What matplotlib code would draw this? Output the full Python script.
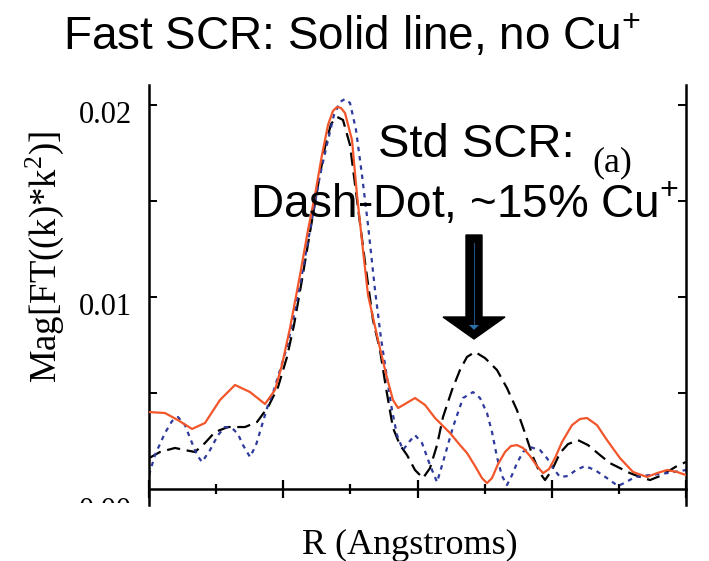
import matplotlib
matplotlib.use("Agg")
import matplotlib.pyplot as plt
from matplotlib.patches import Polygon, Rectangle
from matplotlib.transforms import ScaledTranslation
from matplotlib.lines import Line2D

plt.rcParams['mathtext.fontset'] = 'custom'
plt.rcParams['mathtext.rm'] = 'Liberation Sans'
plt.rcParams['mathtext.it'] = 'Liberation Sans'

# ---------------- data ----------------
r_fast = [0.000, 0.238, 0.432, 0.641, 0.834, 1.058, 1.281, 1.505, 1.728, 1.877,
          1.981, 2.101, 2.250, 2.369, 2.473, 2.577, 2.667, 2.741, 2.801, 2.861,
          2.920, 3.024, 3.099, 3.188, 3.263, 3.412, 3.546, 3.635, 3.710, 3.814,
          3.963, 4.112, 4.261, 4.484, 4.633, 4.737, 4.857, 4.961, 5.035, 5.110,
          5.199, 5.304, 5.393, 5.482, 5.572, 5.676, 5.780, 5.870, 5.959, 6.048,
          6.153, 6.302, 6.421, 6.525, 6.674, 6.823, 7.017, 7.210, 7.419, 7.568,
          7.717, 7.866, 8.000]
mag_fast = [0.00401, 0.00396, 0.00359, 0.00313, 0.00344, 0.00464, 0.00542, 0.00505, 0.00443, 0.00516,
            0.00646, 0.00839, 0.01115, 0.01349, 0.01531, 0.01740, 0.01896, 0.01969, 0.01990, 0.01984,
            0.01958, 0.01818, 0.01531, 0.01245, 0.01010, 0.00776, 0.00578, 0.00464, 0.00422, 0.00443,
            0.00474, 0.00438, 0.00370, 0.00292, 0.00229, 0.00188, 0.00120, 0.00057, 0.00031, 0.00057,
            0.00130, 0.00193, 0.00224, 0.00229, 0.00214, 0.00172, 0.00120, 0.00083, 0.00104, 0.00161,
            0.00245, 0.00333, 0.00365, 0.00370, 0.00333, 0.00255, 0.00161, 0.00089, 0.00063, 0.00083,
            0.00099, 0.00089, 0.00073]

r_std = [0.000, 0.164, 0.387, 0.536, 0.685, 0.834, 0.983, 1.177, 1.430, 1.609,
         1.773, 1.922, 2.056, 2.160, 2.279, 2.399, 2.518, 2.622, 2.711, 2.801,
         2.890, 2.994, 3.099, 3.218, 3.337, 3.441, 3.531, 3.635, 3.739, 3.844,
         3.963, 4.082, 4.186, 4.291, 4.380, 4.514, 4.633, 4.737, 4.857, 5.006,
         5.184, 5.333, 5.482, 5.601, 5.721, 5.825, 5.900, 6.004, 6.123, 6.242,
         6.391, 6.540, 6.719, 6.868, 7.017, 7.166, 7.315, 7.464, 7.613, 7.717,
         7.866, 8.000]
mag_std = [0.00161, 0.00193, 0.00214, 0.00203, 0.00193, 0.00240, 0.00297, 0.00323, 0.00323, 0.00349,
           0.00427, 0.00531, 0.00688, 0.00854, 0.01089, 0.01339, 0.01583, 0.01781, 0.01901, 0.01938,
           0.01922, 0.01792, 0.01505, 0.01182, 0.00880, 0.00724, 0.00526, 0.00318, 0.00229, 0.00177,
           0.00099, 0.00057, 0.00109, 0.00229, 0.00375, 0.00516, 0.00620, 0.00688, 0.00714, 0.00682,
           0.00620, 0.00526, 0.00411, 0.00292, 0.00167, 0.00083, 0.00047, 0.00099, 0.00188, 0.00234,
           0.00255, 0.00229, 0.00177, 0.00135, 0.00109, 0.00083, 0.00063, 0.00047, 0.00068, 0.00089,
           0.00120, 0.00141]

r_third = [0.000, 0.089, 0.238, 0.343, 0.432, 0.536, 0.641, 0.715, 0.790, 0.909,
           1.028, 1.132, 1.237, 1.326, 1.400, 1.505, 1.594, 1.683, 1.773, 1.847,
           1.952, 2.056, 2.145, 2.250, 2.399, 2.548, 2.667, 2.756, 2.846, 2.920,
           2.995, 3.084, 3.173, 3.263, 3.367, 3.456, 3.546, 3.620, 3.695, 3.784,
           3.873, 3.963, 4.067, 4.186, 4.291, 4.380, 4.529, 4.678, 4.827, 4.931,
           5.035, 5.110, 5.184, 5.259, 5.333, 5.408, 5.482, 5.572, 5.676, 5.825,
           5.929, 6.019, 6.123, 6.242, 6.361, 6.495, 6.644, 6.823, 6.987, 7.106,
           7.240, 7.464, 7.717, 8.000]
mag_third = [0.00073, 0.00177, 0.00292, 0.00354, 0.00375, 0.00333, 0.00240, 0.00177, 0.00141, 0.00203,
             0.00281, 0.00323, 0.00318, 0.00286, 0.00229, 0.00167, 0.00229, 0.00333, 0.00438, 0.00500,
             0.00620, 0.00740, 0.00880, 0.01063, 0.01349, 0.01635, 0.01818, 0.01948, 0.02016, 0.02031,
             0.02010, 0.01870, 0.01635, 0.01375, 0.01036, 0.00786, 0.00578, 0.00411, 0.00281, 0.00203,
             0.00245, 0.00281, 0.00240, 0.00125, 0.00036, 0.00141, 0.00323, 0.00474, 0.00505, 0.00474,
             0.00396, 0.00297, 0.00167, 0.00068, 0.00021, 0.00073, 0.00135, 0.00193, 0.00219, 0.00203,
             0.00161, 0.00109, 0.00063, 0.00068, 0.00099, 0.00120, 0.00099, 0.00057, 0.00016, 0.00036,
             0.00063, 0.00073, 0.00083, 0.00099]

y_tick_vals = [0.01, 0.02]
y_tick_labels = ["0.01", "0.02"]

# ---------------- figure ----------------
W, H = 709, 561
fig = plt.figure(figsize=(W / 100, H / 100), dpi=100)

def fx(px):
    return px / W

def fy(py):
    return 1 - py / H

ax_l, ax_r, ax_t, ax_b = 149, 686, 85, 505
ax = fig.add_axes([fx(ax_l), fy(ax_b), (ax_r - ax_l) / W, (ax_b - ax_t) / H])

ax.plot(r_fast, mag_fast, color='#F2562A', lw=1.6, solid_joinstyle='round', zorder=3)
ax.plot(r_std, mag_std, color='black', lw=1.6, dashes=(6, 3), zorder=2)
ax.plot(r_third, mag_third, color='#2E3A9C', lw=1.6, dashes=(2, 2.2), zorder=2)

ax.set_xlim(0, 8)
ax.set_ylim(-0.00083, 0.02104)

ax.spines['top'].set_visible(False)
ax.spines['bottom'].set_position(('data', 0))
for s in ['left', 'right', 'bottom']:
    ax.spines[s].set_linewidth(1.8)

ax.set_xticks([0, 2, 4, 6, 8])
ax.set_xticks([1, 3, 5, 7], minor=True)
ax.tick_params(axis='x', which='major', direction='inout', length=13.5, width=1.6,
               labelbottom=False)
ax.tick_params(axis='x', which='minor', direction='inout', length=7, width=1.6)

ax.set_yticks(y_tick_vals)
ax.set_yticklabels(y_tick_labels)
ax.set_yticks([0.005, 0.015], minor=True)
ax.tick_params(axis='y', which='both', direction='in', length=6, width=1.4,
               left=True, right=True, labelleft=True, labelright=False, pad=12)
for lab in ax.get_yticklabels():
    lab.set_fontfamily('Liberation Serif')
    lab.set_fontsize(22)
    lab.set_transform(lab.get_transform() + ScaledTranslation(0, -7 / 100, fig.dpi_scale_trans))

# partial "0.00" label hidden below the axis
fig.text(fx(132), fy(497), "0.00", ha='right', va='top', fontsize=22,
         family='Liberation Serif', zorder=5)
fig.add_artist(Rectangle((fx(55), fy(530)), (142 - 55) / W, (530 - 503) / H,
                         transform=fig.transFigure, facecolor='white',
                         edgecolor='none', zorder=6))

# axis labels
fig.text(fx(45), fy(257), r"Mag[FT((k)*k$^{\mathregular{2}}$)]", rotation=90,
         ha='center', va='center', fontsize=26.5, family='Liberation Serif')
fig.text(fx(410), fy(545), "R (Angstroms)", ha='center', va='center',
         fontsize=26, family='Liberation Serif')

# title / annotations
fig.text(fx(352), fy(37), r"Fast SCR: Solid line, no Cu$^{+}$", ha='center', va='center',
         fontsize=33, family='Liberation Sans')
fig.text(fx(378), fy(145), "Std SCR:", ha='left', va='center', fontsize=34,
         family='Liberation Sans')
fig.text(fx(612), fy(163), "(a)", ha='center', va='center', fontsize=26,
         family='Liberation Serif')
fig.text(fx(250), fy(205), r"Dash-Dot, ~15% Cu$^{+}$", ha='left', va='center', fontsize=33,
         family='Liberation Sans')

# arrow
arrow_px = [(466, 235), (482, 235), (482, 317), (505, 317), (474, 339),
            (443, 317), (466, 317)]
fig.add_artist(Polygon([(fx(x), fy(y)) for x, y in arrow_px], closed=True,
                       transform=fig.transFigure, facecolor='black', edgecolor='black',
                       zorder=4))
fig.add_artist(Line2D([fx(474), fx(474)], [fy(243), fy(325)], transform=fig.transFigure,
                      color='#1F4E79', lw=0.8, zorder=5))
fig.add_artist(Polygon([(fx(469), fy(325)), (fx(479), fy(325)), (fx(474), fy(330))],
                       closed=True, transform=fig.transFigure, facecolor='#2A6FA8',
                       edgecolor='none', zorder=5))

fig.savefig("out.png", dpi=100)
